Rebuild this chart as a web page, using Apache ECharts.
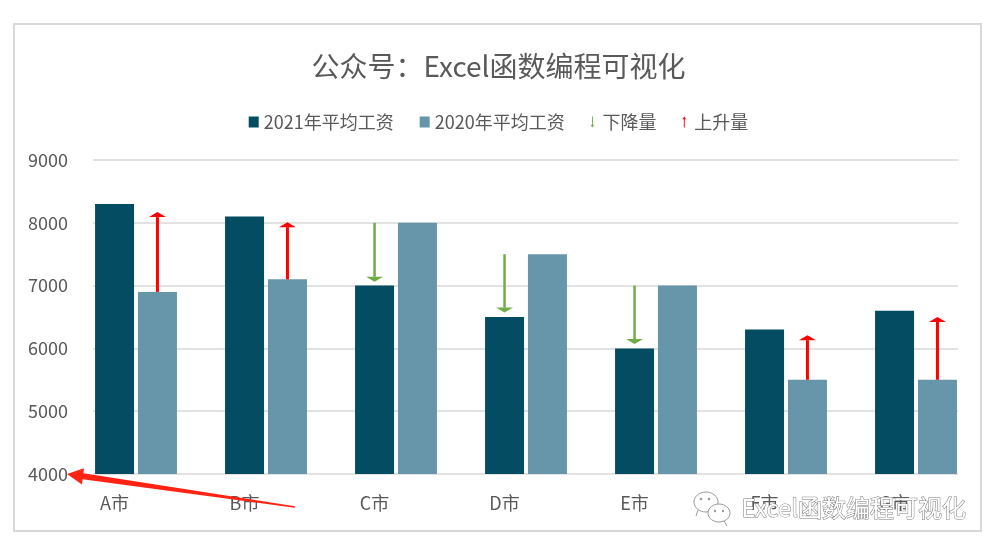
<!DOCTYPE html>
<html><head><meta charset="utf-8">
<script src="https://cdn.jsdelivr.net/npm/echarts@6/dist/echarts.min.js"></script>
<style>html,body{margin:0;padding:0;background:#fff}#c{width:997px;height:555px}</style>
</head><body><div id="c"></div>
<script>
// ---- data ----
const categories = ['A市','B市','C市','D市','E市','F市','G市'];
const salary2021 = [8300, 8100, 7000, 6500, 6000, 6300, 6600];
const salary2020 = [6900, 7100, 8000, 7500, 7000, 5500, 5500];
const arrowTip   = [8170, 8010, 7060, 6570, 6070, 6210, 6500];
const yMin = 4000, yMax = 9000, yStep = 1000;
const seriesNames = ['2021年平均工资', '2020年平均工资', '下降量', '上升量'];
const titleText = '公众号：Excel函数编程可视化';
const watermarkText = 'Excel函数编程可视化';

// ---- build ----
const FONT = '"Noto Sans CJK SC", "Noto Sans", sans-serif';
const TXT = '#595959';
const upData = [], downData = [];
categories.forEach((c, i) => {
  if (salary2021[i] > salary2020[i]) upData.push([i, salary2020[i], arrowTip[i]]);
  else downData.push([i, salary2020[i], arrowTip[i]]);
});

function arrowRender(side, color, lw, headW, headH) {
  return function (params, api) {
    const i = api.value(0);
    const p0 = api.coord([i, api.value(1)]);
    const p1 = api.coord([i, api.value(2)]);
    const catW = api.size([1, 0])[0];
    const bw = catW * 0.3;
    const x = p0[0] + side * bw * 1.1 / 2;
    const dir = p1[1] < p0[1] ? -1 : 1;
    const baseY = p1[1] - dir * headH;
    return {
      type: 'group', children: [
        { type: 'line', shape: { x1: x, y1: p0[1], x2: x, y2: baseY }, style: { stroke: color, lineWidth: lw } },
        { type: 'polygon', shape: { points: [[x, p1[1]], [x - headW / 2, baseY], [x + headW / 2, baseY]] }, style: { fill: color } }
      ]
    };
  };
}

const chart = echarts.init(document.getElementById('c'), null, { renderer: 'canvas' });
chart.setOption({
  backgroundColor: '#fff',
  animation: false,
  textStyle: { fontFamily: FONT },
  title: {
    text: titleText, left: 'center', top: 47,
    textStyle: { fontSize: 28, color: TXT, fontWeight: 'normal', fontFamily: FONT }
  },
  legend: {
    top: 108, left: 'center', itemWidth: 10, itemHeight: 11, itemGap: 26,
    textStyle: { fontSize: 18, color: TXT, fontFamily: FONT },
    data: [
      { name: seriesNames[0], icon: 'rect' },
      { name: seriesNames[1], icon: 'rect' },
      { name: seriesNames[2], icon: 'path://M1.5,0 L2.5,0 L2.5,9 L4,9 L2,12 L0,9 L1.5,9 Z' },
      { name: seriesNames[3], icon: 'path://M2,0 L4,3 L2.5,3 L2.5,12 L1.5,12 L1.5,3 L0,3 Z' }
    ]
  },
  grid: [
    { left: 93, right: 39, top: 160, bottom: 81 },
    { left: 71, right: 16, top: 160, bottom: 81 }
  ],
  xAxis: [
    { gridIndex: 0, type: 'category', data: categories, show: false },
    {
      gridIndex: 1, type: 'category', data: categories, boundaryGap: true,
      axisLine: { show: false }, axisTick: { show: false },
      axisLabel: { color: TXT, fontSize: 18, margin: 20, padding: [0, 43, 0, 0], fontFamily: FONT }
    }
  ],
  yAxis: [
    {
      gridIndex: 0, type: 'value', min: yMin, max: yMax, interval: yStep,
      axisLine: { show: false }, axisTick: { show: false },
      axisLabel: { color: TXT, fontSize: 18, margin: 25, fontFamily: FONT, formatter: v => String(v) },
      splitLine: { show: true, lineStyle: { color: '#d9d9d9', width: 1.5 } }
    },
    {
      gridIndex: 1, type: 'value', min: yMin, max: yMax, interval: yStep,
      axisLine: { show: false }, axisTick: { show: false }, axisLabel: { show: false },
      splitLine: { show: false }
    }
  ],
  series: [
    { name: seriesNames[0], type: 'bar', xAxisIndex: 1, yAxisIndex: 1, data: salary2021,
      barWidth: '30%', barGap: '10%', itemStyle: { color: '#044C61' } },
    { name: seriesNames[1], type: 'bar', xAxisIndex: 1, yAxisIndex: 1, data: salary2020,
      barWidth: '30%', barGap: '10%', itemStyle: { color: '#6795A9' } },
    { name: seriesNames[2], type: 'custom', xAxisIndex: 1, yAxisIndex: 1, data: downData,
      encode: { x: 0, y: [1, 2] }, itemStyle: { color: '#70AD47' },
      renderItem: arrowRender(-1, '#70AD47', 2.5, 17, 5), z: 5 },
    { name: seriesNames[3], type: 'custom', xAxisIndex: 1, yAxisIndex: 1, data: upData,
      encode: { x: 0, y: [1, 2] }, itemStyle: { color: '#FF0000' },
      renderItem: arrowRender(1, '#FF0000', 3, 17, 5), z: 5 }
  ],
  graphic: [
    { type: 'rect', z: 0, silent: true, shape: { x: 14, y: 24, width: 967, height: 507 },
      style: { fill: 'none', stroke: '#d9d9d9', lineWidth: 2 } },
    // annotation arrow
    { type: 'polygon', z: 100, silent: true,
      shape: { points: [[67, 474], [84, 468.2], [83.4, 473.3], [295, 506.3], [294.8, 507.7], [82.6, 479.3], [82, 484.5]] },
      style: { fill: '#FF2314' } },
    // watermark icon
    { type: 'group', z: 100, silent: true, children: [
      { type: 'ellipse', shape: { cx: 706, cy: 502, rx: 12, ry: 10 }, style: { fill: '#fff', stroke: '#9a9a9a', lineWidth: 1 } },
      { type: 'line', shape: { x1: 698, y1: 510, x2: 696, y2: 516 }, style: { stroke: '#9a9a9a', lineWidth: 1 } },
      { type: 'circle', shape: { cx: 701, cy: 499, r: 1.3 }, style: { fill: '#9a9a9a' } },
      { type: 'circle', shape: { cx: 709, cy: 499, r: 1.3 }, style: { fill: '#9a9a9a' } },
      { type: 'ellipse', shape: { cx: 719, cy: 513, rx: 11, ry: 9 }, style: { fill: '#fff', stroke: '#9a9a9a', lineWidth: 1 } },
      { type: 'line', shape: { x1: 724, y1: 521, x2: 727, y2: 526 }, style: { stroke: '#9a9a9a', lineWidth: 1 } },
      { type: 'circle', shape: { cx: 715, cy: 511, r: 1.2 }, style: { fill: '#9a9a9a' } },
      { type: 'circle', shape: { cx: 723, cy: 511, r: 1.2 }, style: { fill: '#9a9a9a' } }
    ] },
    { type: 'text', z: 100, silent: true, left: 741, top: 495,
      style: { text: watermarkText, font: '24px ' + FONT, fill: '#ffffff', stroke: '#7a7a7a', lineWidth: 1 } }
  ]
});
</script></body></html>
